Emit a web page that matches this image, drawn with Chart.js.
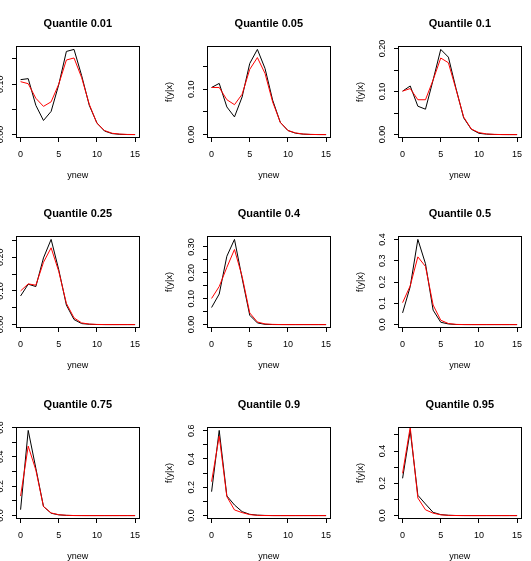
<!DOCTYPE html>
<html>
<head>
<meta charset="utf-8">
<title>Quantile densities</title>
<script src="https://cdn.jsdelivr.net/npm/chart.js@4/dist/chart.umd.min.js"></script>
<style>
    html, body { margin: 0; padding: 0; background: #fff; }
    body { width: 531px; height: 561px; position: relative; overflow: hidden; }
    canvas { position: absolute; }
</style>
</head>
<body>
<script>
// x values (ynew) and x ticks
const ynew = [0, 1, 2, 3, 4, 5, 6, 7, 8, 9, 10, 11, 12, 13, 14, 15];
const xTicks = [0, 5, 10, 15];

// Quantile 0.01
const q01Black = [0.109, 0.111, 0.058, 0.028, 0.046, 0.099, 0.165, 0.169, 0.117, 0.058, 0.023, 0.007, 0.002, 0.0005, 0.0001, 0];
const q01Red = [0.105, 0.101, 0.072, 0.056, 0.065, 0.100, 0.148, 0.152, 0.113, 0.060, 0.0225, 0.008, 0.0026, 0.001, 0.0003, 0.0001];
const q01Ticks = [0, 0.05, 0.10, 0.15];
const q01Labels = ['0.00', '', '0.10', ''];

// Quantile 0.05
const q05Black = [0.104, 0.113, 0.061, 0.039, 0.083, 0.157, 0.188, 0.146, 0.076, 0.027, 0.009, 0.003, 0.001, 0.0003, 0.0001, 0];
const q05Red = [0.104, 0.104, 0.077, 0.066, 0.089, 0.144, 0.170, 0.135, 0.072, 0.027, 0.009, 0.0037, 0.0012, 0.0004, 0.0001, 0];
const q05Ticks = [0, 0.05, 0.10, 0.15];
const q05Labels = ['0.00', '', '0.10', ''];

// Quantile 0.1
const q10Black = [0.101, 0.113, 0.066, 0.059, 0.127, 0.198, 0.180, 0.107, 0.039, 0.0125, 0.003, 0.001, 0.0003, 0.0001, 0, 0];
const q10Red = [0.101, 0.107, 0.081, 0.081, 0.127, 0.178, 0.167, 0.105, 0.041, 0.013, 0.0047, 0.0015, 0.0005, 0.0001, 0, 0];
const q10Ticks = [0, 0.05, 0.10, 0.15, 0.20];
const q10Labels = ['0.00', '', '0.10', '', '0.20'];

// Quantile 0.25
const q25Black = [0.085, 0.120, 0.113, 0.198, 0.253, 0.163, 0.058, 0.015, 0.003, 0.001, 0.0002, 0, 0, 0, 0, 0];
const q25Red = [0.100, 0.121, 0.117, 0.185, 0.228, 0.158, 0.063, 0.020, 0.005, 0.0015, 0.0005, 0.0001, 0, 0, 0, 0];
const q25Ticks = [0, 0.05, 0.10, 0.15, 0.20, 0.25];
const q25Labels = ['0.00', '', '0.10', '', '0.20', ''];

// Quantile 0.4
const q40Black = [0.066, 0.118, 0.264, 0.329, 0.179, 0.036, 0.0065, 0.001, 0.0002, 0, 0, 0, 0, 0, 0, 0];
const q40Red = [0.101, 0.147, 0.221, 0.290, 0.186, 0.045, 0.010, 0.0026, 0.0008, 0.0002, 0, 0, 0, 0, 0, 0];
const q40Ticks = [0, 0.05, 0.10, 0.15, 0.20, 0.25, 0.30];
const q40Labels = ['0.00', '', '0.10', '', '0.20', '', '0.30'];

// Quantile 0.5
const q50Black = [0.055, 0.178, 0.400, 0.286, 0.068, 0.011, 0.003, 0.0005, 0.0001, 0, 0, 0, 0, 0, 0, 0];
const q50Red = [0.103, 0.182, 0.318, 0.273, 0.092, 0.0205, 0.005, 0.001, 0.0002, 0, 0, 0, 0, 0, 0, 0];
const q50Ticks = [0, 0.1, 0.2, 0.3, 0.4];
const q50Labels = ['0.0', '0.1', '0.2', '0.3', '0.4'];

// Quantile 0.75
const q75Black = [0.040, 0.580, 0.322, 0.062, 0.016, 0.005, 0.0015, 0.0004, 0.0001, 0, 0, 0, 0, 0, 0, 0];
const q75Red = [0.133, 0.473, 0.310, 0.062, 0.018, 0.006, 0.002, 0.0005, 0.0001, 0, 0, 0, 0, 0, 0, 0];
const q75Ticks = [0, 0.1, 0.2, 0.3, 0.4, 0.5, 0.6];
const q75Labels = ['0.0', '', '0.2', '', '0.4', '', '0.6'];

// Quantile 0.9
const q90Black = [0.169, 0.602, 0.139, 0.075, 0.028, 0.009, 0.003, 0.001, 0.0002, 0, 0, 0, 0, 0, 0, 0];
const q90Red = [0.240, 0.562, 0.134, 0.040, 0.021, 0.007, 0.002, 0.0005, 0.0001, 0, 0, 0, 0, 0, 0, 0];
const q90Ticks = [0, 0.1, 0.2, 0.3, 0.4, 0.5, 0.6];
const q90Labels = ['0.0', '', '0.2', '', '0.4', '', '0.6'];

// Quantile 0.95
const q95Black = [0.231, 0.528, 0.126, 0.072, 0.020, 0.006, 0.002, 0.0005, 0.0001, 0, 0, 0, 0, 0, 0, 0];
const q95Red = [0.262, 0.548, 0.109, 0.036, 0.015, 0.005, 0.0015, 0.0004, 0.0001, 0, 0, 0, 0, 0, 0, 0];
const q95Ticks = [0, 0.1, 0.2, 0.3, 0.4, 0.5];
const q95Labels = ['0.0', '', '0.2', '', '0.4', ''];

const panels = [
    { q: '0.01', black: q01Black, red: q01Red, ticks: q01Ticks, labels: q01Labels },
    { q: '0.05', black: q05Black, red: q05Red, ticks: q05Ticks, labels: q05Labels },
    { q: '0.1', black: q10Black, red: q10Red, ticks: q10Ticks, labels: q10Labels },
    { q: '0.25', black: q25Black, red: q25Red, ticks: q25Ticks, labels: q25Labels },
    { q: '0.4', black: q40Black, red: q40Red, ticks: q40Ticks, labels: q40Labels },
    { q: '0.5', black: q50Black, red: q50Red, ticks: q50Ticks, labels: q50Labels },
    { q: '0.75', black: q75Black, red: q75Red, ticks: q75Ticks, labels: q75Labels },
    { q: '0.9', black: q90Black, red: q90Red, ticks: q90Ticks, labels: q90Labels },
    { q: '0.95', black: q95Black, red: q95Red, ticks: q95Ticks, labels: q95Labels }
];

const fontFamily = "'Liberation Sans', Arial, Helvetica, sans-serif";
const axisFont = { family: fontFamily, size: 9 };

// Plot box positions on the page (left edge of each column / top of each row)
const colLeft = [16, 207, 398];
const rowTop = [46, 236, 427];

// R-like box around the plot region
const boxPlugin = {
    id: 'box',
    afterDraw(chart) {
        const a = chart.chartArea;
        const ctx = chart.ctx;
        ctx.save();
        ctx.strokeStyle = '#000';
        ctx.lineWidth = 1;
        ctx.strokeRect(Math.round(a.left) + 0.5, Math.round(a.top) + 0.5,
            Math.round(a.right - a.left) - 1, Math.round(a.bottom - a.top) - 1);
        ctx.restore();
    }
};

function toPoints(values) {
    return ynew.map((x, i) => ({ x: x, y: values[i] }));
}

function makeChart(p, idx) {
    const canvas = document.createElement('canvas');
    canvas.width = 190;
    canvas.height = 190;
    canvas.style.left = (colLeft[idx % 3] - 58) + 'px';
    canvas.style.top = (rowTop[Math.floor(idx / 3)] - 46) + 'px';
    document.body.appendChild(canvas);

    // y range like R: from the first plotted series, extended by 4%
    const lo = Math.min(...p.black);
    const hi = Math.max(...p.black);
    const pad = 0.04 * (hi - lo);
    const yPad = p.labels.some(l => l.length > 3) ? 3.2 : 5.5;

    new Chart(canvas, {
        type: 'line',
        data: {
            datasets: [
                { data: toPoints(p.red), borderColor: '#ff0000', borderWidth: 1, pointRadius: 0, tension: 0, fill: false },
                { data: toPoints(p.black), borderColor: '#000000', borderWidth: 1, pointRadius: 0, tension: 0, fill: false }
            ]
        },
        options: {
            responsive: false,
            animation: false,
            events: [],
            layout: { padding: { left: 0, right: 7, top: 0, bottom: 0 } },
            plugins: {
                legend: { display: false },
                tooltip: { enabled: false },
                title: {
                    display: true,
                    fullSize: false,   // centre over the plot box, like R's main title
                    text: 'Quantile ' + p.q,
                    color: '#000',
                    font: { family: fontFamily, size: 11, weight: 'bold' },
                    padding: { top: 17.4, bottom: 15.4 }
                }
            },
            scales: {
                x: {
                    type: 'linear',
                    bounds: 'data',
                    min: -0.6,
                    max: 15.6,
                    afterBuildTicks: s => { s.ticks = xTicks.map(v => ({ value: v })); },
                    afterFit: s => { s.height = 52; },
                    border: { display: false },
                    grid: { drawOnChartArea: false, tickLength: 4, color: '#000' },
                    ticks: {
                        color: '#000', font: axisFont, padding: 7.6,
                        maxRotation: 0, autoSkip: false,
                        callback: v => String(v)
                    },
                    title: {
                        display: true, text: 'ynew', color: '#000', font: axisFont,
                        padding: { top: 0, bottom: 8.6 }
                    }
                },
                y: {
                    type: 'linear',
                    bounds: 'data',
                    min: lo - pad,
                    max: hi + pad,
                    afterBuildTicks: s => { s.ticks = p.ticks.map(v => ({ value: v })); },
                    afterFit: s => { s.width = 58; },
                    border: { display: false },
                    grid: { drawOnChartArea: false, tickLength: 4, color: '#000' },
                    ticks: {
                        color: '#000', font: axisFont, padding: yPad,
                        minRotation: 90, maxRotation: 90, crossAlign: 'center', autoSkip: false,
                        callback: (v, i) => p.labels[i]
                    },
                    title: {
                        display: true, text: 'f(y|x)', color: '#000', font: axisFont,
                        padding: { top: 15.6, bottom: 0 }
                    }
                }
            }
        },
        plugins: [boxPlugin]
    });
}

panels.forEach(makeChart);
</script>
</body>
</html>
